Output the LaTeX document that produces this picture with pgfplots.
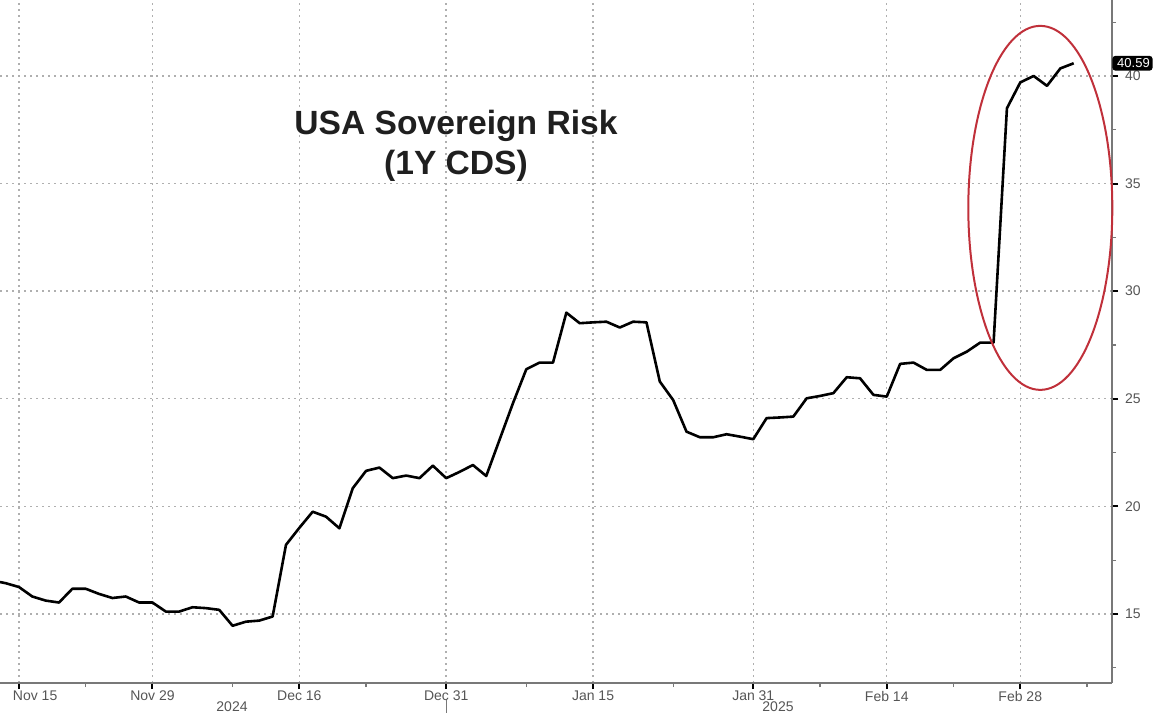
\documentclass[border=0pt]{standalone}
\usepackage{pgfplots}
\pgfplotsset{compat=1.18}
\usepackage{fontspec}
\setmainfont{Liberation Sans}
\definecolor{gridc}{RGB}{175,175,175}
\definecolor{axc}{RGB}{120,120,120}
\definecolor{labc}{RGB}{85,85,85}
\definecolor{ovalc}{RGB}{192,48,58}
\pgfplotstableread{
i v
-2 16.55
-1 16.43
0 16.25
1 15.81
2 15.62
3 15.53
4 16.17
5 16.17
6 15.93
7 15.74
8 15.81
9 15.53
10 15.53
11 15.11
12 15.11
13 15.31
14 15.27
15 15.19
16 14.45
17 14.64
18 14.69
19 14.88
20 18.21
21 19.00
22 19.75
23 19.52
24 18.98
25 20.84
26 21.65
27 21.80
28 21.31
29 21.43
30 21.31
31 21.89
32 21.31
33 21.60
34 21.92
35 21.41
36 23.10
37 24.79
38 26.37
39 26.68
40 26.68
41 29.00
42 28.51
43 28.55
44 28.58
45 28.31
46 28.58
47 28.55
48 25.80
49 24.94
50 23.47
51 23.21
52 23.21
53 23.35
54 23.24
55 23.12
56 24.10
57 24.13
58 24.17
59 25.02
60 25.13
61 25.26
62 26.00
63 25.95
64 25.18
65 25.10
66 26.62
67 26.68
68 26.34
69 26.34
70 26.88
71 27.19
72 27.61
73 27.61
74 38.50
75 39.70
76 40.00
77 39.54
78 40.35
79 40.59
}\cds
\begin{document}
\begin{tikzpicture}
\begin{axis}[
  at={(0pt,15pt)}, anchor=south west,
  width=556pt, height=341.5pt, scale only axis,
  xmin=-1.42, xmax=81.87, ymin=11.79, ymax=43.53,
  axis x line*=bottom, axis y line*=right,
  axis line style={axc, line width=0.8pt},
  xtick={0,10,21,32,43,55,65,75},
  xticklabels={{\makebox[0pt][l]{\hspace{-3pt}Nov 15}},Nov 29,Dec 16,Dec 31,Jan 15,Jan 31,Feb 14,Feb 28},
  minor xtick={5,16,26,38,49,60,70,80},
  ytick={15,20,25,30,35,40},
  minor ytick={12.5,17.5,22.5,27.5,32.5,37.5,42.5},
  xmajorgrids, ymajorgrids,
  grid style={gridc, line width=0.7pt, dash pattern=on 0.8pt off 2.2pt},
  major tick style={black, line width=1pt},
  minor tick style={axc, line width=0.6pt},
  major tick length=3pt, minor tick length=2pt,
  tick align=outside,
  tick label style={font=\fontsize{7}{8}\selectfont, text=labc},
  /pgf/number format/assume math mode=true,
  xticklabel style={yshift=2.5pt},
  yticklabel style={xshift=0pt},
  clip mode=individual,
]
\addplot[black, line width=1.3pt, line join=round] table[x=i, y=v] {\cds};
\draw[ovalc, line width=1pt] (axis cs:76.5,33.87) ellipse [x radius=36pt, y radius=91pt];
\node[fill=black, text=white, rounded corners=1.5pt, anchor=west, inner sep=1.4pt,
  font=\fontsize{6.5}{7}\selectfont] at (axis cs:81.87,40.59) {\hspace{1pt}40.59};
\coordinate (sep) at (axis cs:32,11.79);
\end{axis}
\draw[axc, line width=0.6pt] ([yshift=-8.5pt]sep) -- ([yshift=-15pt]sep);
\node[anchor=base, font=\bfseries\fontsize{16.8}{20}\selectfont, text=black!88] at (228pt,289pt) {USA Sovereign Risk};
\node[anchor=base, font=\bfseries\fontsize{16.8}{20}\selectfont, text=black!88] at (228pt,269pt) {(1Y CDS)};
\node[font=\fontsize{7}{8}\selectfont, text=labc] at (116pt,3pt) {2024};
\node[font=\fontsize{7}{8}\selectfont, text=labc] at (389pt,3pt) {2025};
\pgfresetboundingbox
\path[use as bounding box] (0,0) rectangle (577pt,356.5pt);
\end{tikzpicture}
\end{document}
